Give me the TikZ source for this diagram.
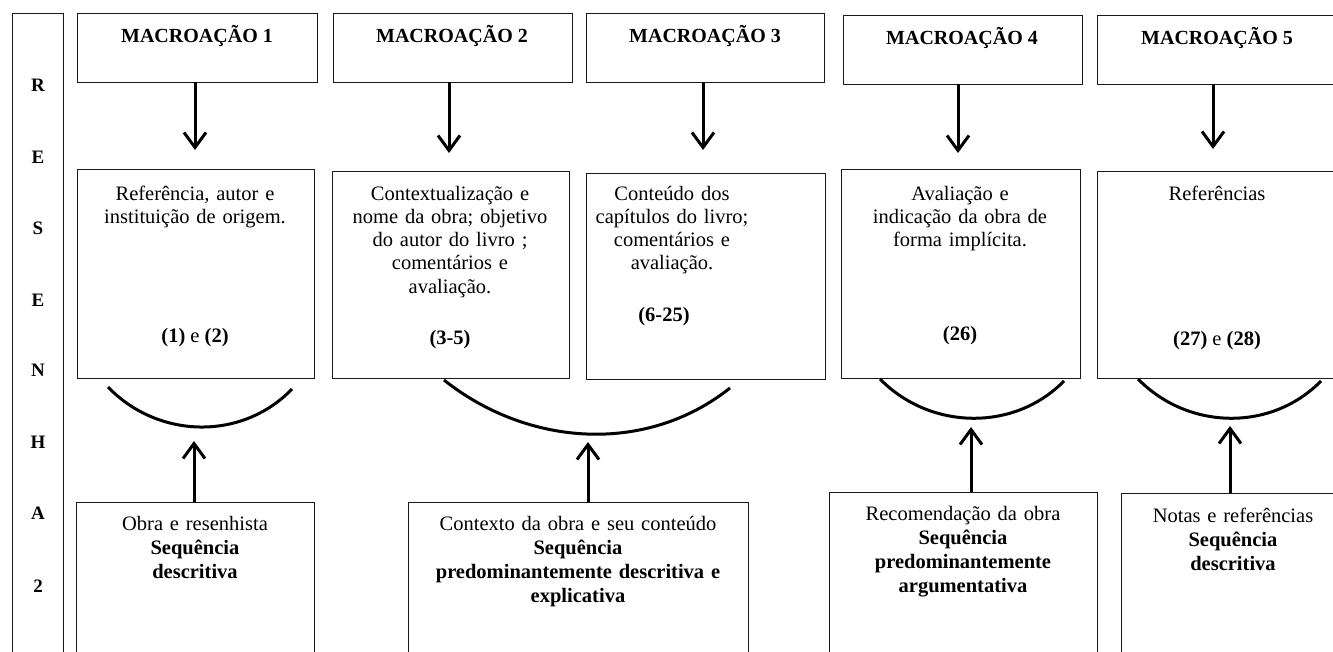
\documentclass[tikz,border=0pt]{standalone}
\usepackage{fontspec}
\setmainfont{Liberation Serif}
\usetikzlibrary{arrows.meta}
\begin{document}
\begin{tikzpicture}[x=1pt,y=-1pt,
  frame/.style={draw=black!90, line width=1pt, inner sep=0pt, outer sep=0pt},
  title/.style={font=\fontsize{20}{23}\selectfont\bfseries, inner sep=0pt, anchor=base},
  body/.style={font=\fontsize{20.5}{23.3}\selectfont, inner sep=0pt, anchor=north, align=center, text width=#1},
  lowbody/.style={font=\fontsize{20.5}{24}\selectfont, inner sep=0pt, anchor=north, align=center, text width=#1},
  num/.style={font=\fontsize{20.5}{23.3}\selectfont, inner sep=0pt, anchor=base},
  letter/.style={font=\fontsize{19}{22}\selectfont\bfseries, inner sep=0pt},
  link/.style={line width=3pt, -{Straight Barb[length=15pt,width=22pt]}},
  brace/.style={line width=3pt, line cap=butt},
]
\useasboundingbox (0,0) rectangle (1333,651);
\fill[white] (0,0) rectangle (1333,651);

% side column with the vertical word
\node[frame, minimum width=51pt, minimum height=647pt] (side) at (37.5,336.5) {};
\foreach \ch/\yy [count=\i] in {R/85,E/157,S/228,E/300,N/370,H/442,A/513,2/586}
  \node[letter] (l\i) at (38,\yy) {\ch};

% top row: macro-actions
\node[frame, minimum width=240pt, minimum height=69pt] (M1) at (197,47.5) {};
\node[frame, minimum width=239pt, minimum height=69pt] (M2) at (452.5,47.5) {};
\node[frame, minimum width=238pt, minimum height=69pt] (M3) at (705,47.5) {};
\node[frame, minimum width=239pt, minimum height=69pt] (M4) at (962.5,49.5) {};
\node[frame, minimum width=248pt, minimum height=69pt] (M5) at (1221,49.5) {};
\node[title] (tM1) at (197,42) {MACROAÇÃO 1};
\node[title] (tM2) at (452,42) {MACROAÇÃO 2};
\node[title] (tM3) at (705,42) {MACROAÇÃO 3};
\node[title] (tM4) at (962,44) {MACROAÇÃO 4};
\node[title] (tM5) at (1217,44) {MACROAÇÃO 5};

% middle row: contents
\node[frame, minimum width=237pt, minimum height=209pt] (B1) at (195.5,273.5) {};
\node[frame, minimum width=237pt, minimum height=207pt] (B2) at (450.5,274.5) {};
\node[frame, minimum width=239pt, minimum height=206pt] (B3) at (705.5,276) {};
\node[frame, minimum width=239pt, minimum height=209pt] (B4) at (960.5,273.5) {};
\node[frame, minimum width=248pt, minimum height=207pt] (B5) at (1221,274.5) {};

\node[body=230pt] (tB1) at (195,183.5) {\strut Referência, autor e\\instituição de origem.};
\node[num] (nB1) at (195,342) {\textbf{(1)} e \textbf{(2)}};
\node[body=230pt] (tB2) at (450,183.5) {\strut Contextualização e\\nome da obra; objetivo\\do autor do livro ;\\comentários e\\avaliação.};
\node[num] (nB2) at (450,344) {\textbf{(3-5)}};
\node[body=230pt] (tB3) at (672,183.5) {\strut Conteúdo dos\\capítulos do livro;\\comentários e\\avaliação.};
\node[num] (nB3) at (664,321) {\textbf{(6-25)}};
\node[body=230pt] (tB4) at (960,183.5) {\strut Avaliação e\\indicação da obra de\\forma implícita.};
\node[num] (nB4) at (960,340) {\textbf{(26)}};
\node[body=230pt] (tB5) at (1217,183.5) {\strut Referências};
\node[num] (nB5) at (1217,345) {\textbf{(27)} e \textbf{(28)}};

% downward links
\coordinate (d1) at (195,150);
\coordinate (d2) at (449,153);
\coordinate (d3) at (703,150);
\coordinate (d4) at (958,153);
\coordinate (d5) at (1213,149);
\draw[link] (d1 |- M1.south) -- (d1);
\draw[link] (d2 |- M2.south) -- (d2);
\draw[link] (d3 |- M3.south) -- (d3);
\draw[link] (d4 |- M4.south) -- (d4);
\draw[link] (d5 |- M5.south) -- (d5);

% grouping curves under the middle row
\coordinate (a1l) at (108,387);  \coordinate (a1r) at (292,389);
\coordinate (a2l) at (444,380);  \coordinate (a2r) at (730,388);
\coordinate (a4l) at (880,379);  \coordinate (a4r) at (1064,381);
\coordinate (a5l) at (1138,379); \coordinate (a5r) at (1321,381);
\draw[brace] (a1l) .. controls (158,439) and (242,441) .. (a1r);
\draw[brace] (a2l) .. controls (527.8,446.7) and (646.2,454.7) .. (a2r);
\draw[brace] (a4l) .. controls (930,430) and (1014,432) .. (a4r);
\draw[brace] (a5l) .. controls (1188,430) and (1271,432) .. (a5r);

% bottom row: sequences
\node[frame, minimum width=238pt, minimum height=158pt] (C1) at (195,581) {};
\node[frame, minimum width=340pt, minimum height=158pt] (C2) at (578,581) {};
\node[frame, minimum width=268pt, minimum height=168pt] (C3) at (963,576) {};
\node[frame, minimum width=224pt, minimum height=167pt] (C4) at (1233,576.5) {};

\node[lowbody=230pt] (tC1) at (195,513.5) {\strut Obra e resenhista\\\textbf{Sequência}\\\textbf{descritiva}};
\node[lowbody=330pt] (tC2) at (578,513.5) {\strut Contexto da obra e seu conteúdo\\\textbf{Sequência}\\\textbf{predominantemente descritiva e}\\\textbf{explicativa}};
\node[lowbody=260pt] (tC3) at (963,503.5) {\strut Recomendação da obra\\\textbf{Sequência}\\\textbf{predominantemente}\\\textbf{argumentativa}};
\node[lowbody=220pt] (tC4) at (1233,505.5) {\strut Notas e referências\\\textbf{Sequência}\\\textbf{descritiva}};

% upward links
\coordinate (u1) at (194,441);
\coordinate (u2) at (588,442);
\coordinate (u4) at (971,427);
\coordinate (u5) at (1230,426);
\draw[link] (u1 |- C1.north) -- (u1);
\draw[link] (u2 |- C2.north) -- (u2);
\draw[link] (u4 |- C3.north) -- (u4);
\draw[link] (u5 |- C4.north) -- (u5);
\end{tikzpicture}
\end{document}
